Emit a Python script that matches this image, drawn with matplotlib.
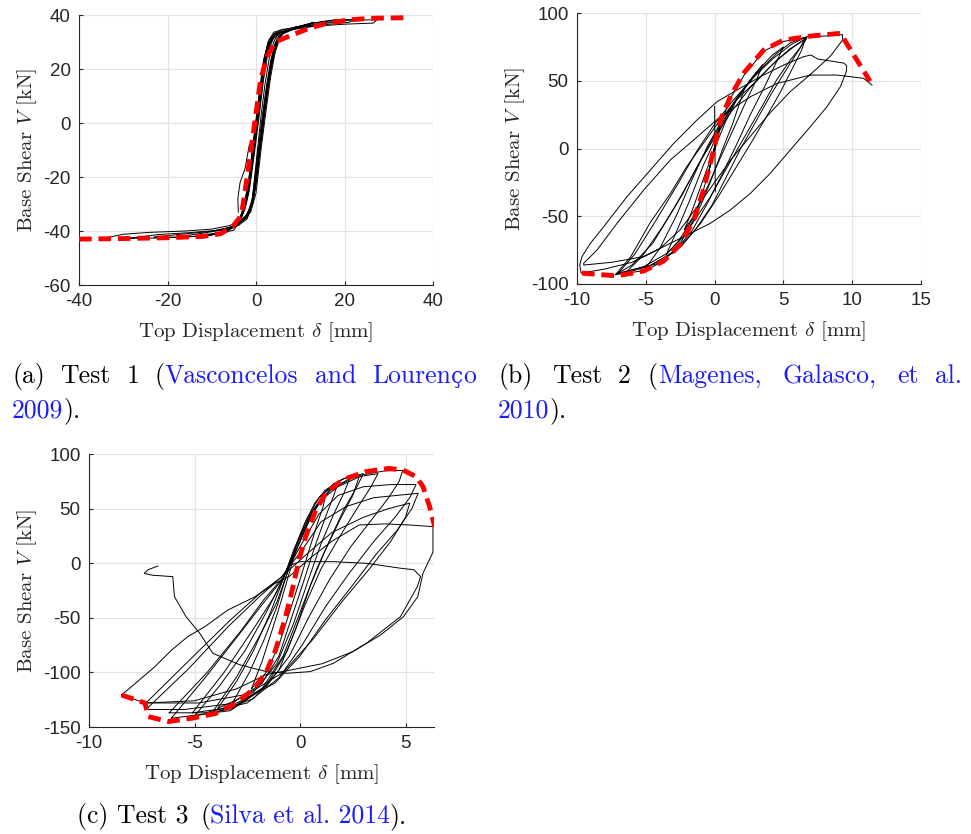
import matplotlib
matplotlib.use("Agg")
import matplotlib.pyplot as plt

plt.rcParams['font.family'] = ['Liberation Sans', 'DejaVu Sans']
plt.rcParams['mathtext.fontset'] = 'cm'
plt.rcParams['axes.unicode_minus'] = False

SERIF = ['cmr10', 'DejaVu Serif']
BLUE = '#1a1aff'

# ---- Test 1 (Vasconcelos and Lourenco 2009): displacement [mm], shear [kN]
env1 = [(-40, -43), (-30, -42.8), (-20, -42.5), (-12, -42), (-8, -41), (-5.3, -38.4),
        (-3.8, -35.3), (-3.1, -32), (-2, -20), (-0.8, -6), (0.2, 6), (1.05, 16),
        (2.5, 24.6), (4.4, 30.1), (8.2, 32.6), (12, 35.1), (15.7, 36.8), (21, 38.2),
        (26.3, 38.8), (34, 39)]
loops1 = [
    [(-3.5, -36), (-2, -34), (-0.8, -28), (0.2, -12), (1.1, 2), (2, 14), (3, 24), (4, 30),
     (5, 33), (4, 32.5), (3, 30), (2, 24), (1, 12), (0, -3), (-1, -17), (-2, -28),
     (-3, -34), (-3.5, -36)],
    [(-5, -38), (-2.5, -35.5), (-1, -30), (0.2, -14), (1.3, 1), (2.3, 13), (3.3, 23),
     (4.3, 29.5), (5.2, 32.5), (6.5, 34), (4.5, 33.5), (3, 31), (1.8, 24), (0.7, 10),
     (-0.4, -5), (-1.4, -19), (-2.4, -29), (-3.4, -35), (-5, -38)],
    [(-8, -40), (-4, -37.5), (-1.8, -34.5), (-0.4, -25), (0.8, -8), (1.9, 5), (2.9, 16),
     (3.9, 25), (4.8, 31), (6, 33.5), (9, 35), (6, 34.7), (4, 33.6), (2.7, 30), (1.6, 22),
     (0.5, 8), (-0.6, -7), (-1.6, -21), (-2.6, -30), (-3.6, -35.5), (-5, -38.2), (-8, -40)],
    [(-11, -41.5), (-7, -40.2), (-4, -38), (-2, -35.5), (-0.5, -27), (0.6, -11), (1.6, 3),
     (2.6, 15), (3.6, 24.5), (4.6, 30.5), (6, 33), (9, 35.5), (13, 37.3), (12, 36.5),
     (9, 35.6), (6, 34.5), (4, 33), (2.5, 28), (1.4, 18), (0.3, 4), (-0.8, -10),
     (-1.8, -23), (-2.8, -31), (-3.8, -35.8), (-6, -39.5), (-8, -41), (-11, -41.5)],
    [(-17, -42), (-12, -40.8), (-7, -39.5), (-4, -37.5), (-2, -35), (-0.6, -29),
     (0.5, -15), (1.5, 0), (2.5, 13), (3.5, 23), (4.5, 29.5), (5.5, 32.5), (8, 34.6),
     (12, 36.6), (15, 37.6), (18, 38.2), (17, 37.2), (13, 36.3), (9, 35.2), (6, 34),
     (4.2, 32.5), (3, 29), (1.9, 21), (0.8, 7), (-0.3, -8), (-1.3, -21), (-2.3, -30),
     (-3.3, -35), (-5, -39.7), (-10, -41.5), (-14, -42), (-17, -42)],
    [(-23, -42.3), (-17, -41.2), (-11, -40.3), (-6, -38.8), (-3.5, -36.5), (-1.5, -33.5),
     (-0.2, -25), (0.9, -9), (2, 5), (3, 17), (4, 26), (5, 31), (6.2, 33.2), (9, 35),
     (13, 37), (18, 38.2), (22.5, 38.4), (21, 37.3), (16, 36.5), (10, 35.3), (6.5, 34),
     (4.5, 33), (3.3, 30.5), (2.2, 24), (1.1, 11), (0, -3), (-1, -16), (-2, -27),
     (-3, -33.5), (-4.5, -37.5), (-7, -40.3), (-11, -41.8), (-17, -42.3), (-23, -42.3)],
    [(-28.7, -42.7), (-22, -41.3), (-15, -40.6), (-9, -39.8), (-5, -38.2), (-2.7, -35.5),
     (-1, -30.5), (0.3, -17), (1.4, -2), (2.4, 11), (3.4, 21), (4.4, 28), (5.3, 32),
     (6.6, 33.8), (10, 35.6), (16, 37.3), (22, 38.2), (27.3, 38.2), (26.5, 37), (20, 36.6),
     (13, 35.8), (8, 34.5), (5.5, 33.4), (4, 31.5), (2.8, 27), (1.7, 16), (0.6, 1),
     (-0.5, -13), (-1.5, -25), (-2.5, -32), (-3.7, -36), (-7, -40.3), (-14, -42),
     (-22, -42.6), (-28.7, -42.7)],
    [(-34.3, -42.7), (-30, -41.2), (-24, -40.5), (-16, -40), (-10, -39.3), (-6, -38),
     (-3.3, -36), (-1.4, -33), (0, -23), (1.1, -8), (2.2, 6), (3.2, 18), (4.2, 26.5),
     (5.2, 31.5)],
    [(5, 32.5), (3.6, 31), (2.4, 25), (1.3, 13), (0.2, -2), (-0.9, -16), (-1.9, -27),
     (-2.9, -33.3), (-3.6, -35.6)],
    [(-3, -36), (-1.2, -33), (0, -26), (1.2, -9), (2.3, 5), (3.3, 17), (4.3, 26),
     (5.4, 31.5), (6, 33)],
    [(-4, -33), (-4.1, -28), (-3.6, -22), (-2.5, -17), (-1.5, -8)],
]

# ---- Test 2 (Magenes, Galasco, et al. 2010)
env2 = [(-9.64, -92), (-7.1, -94), (-5.15, -90.4), (-3.7, -83), (-2.5, -70.8),
        (-1.5, -52.4), (-0.8, -30.3), (-0.07, -1.2), (0.42, 21), (1.14, 38), (2.1, 55.5),
        (3.57, 72.7), (5.0, 80), (7.0, 83), (9.14, 85), (11.3, 49.6)]
loops2 = [
    [(0, 31), (0.05, -32)],
    [(-0.5, -20), (0.5, 22), (0.2, 10), (-0.5, -20)],
    [(-2.2, -60), (-1.6, -45), (-0.8, -22), (0, 0), (0.8, 20), (1.6, 36), (2.2, 45),
     (1.9, 36), (1.3, 18), (0.6, 0), (-0.2, -22), (-1, -42), (-2.2, -60)],
    [(-3.5, -78), (-2.8, -62), (-1.8, -38), (-0.8, -12), (0.2, 10), (1.2, 30), (2.4, 48),
     (3.5, 62), (3.1, 52), (2.3, 35), (1.4, 15), (0.5, -5), (-0.5, -28), (-1.6, -52),
     (-2.6, -68), (-3.5, -78)],
    [(-5, -88), (-4, -74), (-2.8, -50), (-1.6, -22), (-0.5, 2), (0.6, 22), (1.8, 40),
     (3, 56), (4.2, 69), (5, 75), (4.5, 64), (3.6, 45), (2.6, 25), (1.6, 3), (0.6, -18),
     (-0.5, -40), (-1.6, -60), (-3, -77), (-5, -88)],
    [(-7.2, -93), (-6.1, -80), (-4.7, -55), (-3.2, -33), (-2, -13), (-0.8, 4), (0.4, 21),
     (1.6, 36), (3.1, 50.5), (4.5, 65), (5.75, 75), (6.7, 81.5), (6.47, 77.6),
     (5.5, 65.3), (4.5, 50.5), (3.57, 33.3), (2.6, 16.1), (1.63, -1.1), (0.66, -18.3),
     (-0.31, -35.6), (-1.28, -50.3), (-2.25, -65), (-3.46, -77.4), (-5.15, -87.2),
     (-7.2, -93)],
    [(-7, -92), (-5.8, -78), (-4.2, -52), (-2.6, -25), (-1.3, -2), (0, 18), (1.3, 35),
     (2.8, 52), (4.2, 66), (5.6, 77), (6.6, 82), (6.2, 74), (5.2, 58), (4.1, 40), (3, 20),
     (1.9, 0), (0.9, -20), (-0.2, -42), (-1.4, -60), (-2.8, -75), (-4.6, -86), (-7, -92)],
    [(-6.5, -92), (-5.3, -80), (-3.8, -58), (-2.4, -35), (-1.2, -12), (0, 8), (1.2, 27),
     (2.6, 45), (4, 60), (5.4, 73), (6.6, 81), (6.3, 72), (5.6, 58), (4.8, 42), (3.8, 24),
     (2.7, 5), (1.5, -15), (0.3, -35), (-1, -55), (-2.4, -72), (-4.2, -85), (-6.5, -92)],
    [(-7.2, -93), (-5, -90), (-3.7, -83), (-2.5, -70), (-1.5, -52), (-0.8, -30), (0, -2),
     (0.5, 20), (1.2, 38), (2.2, 55), (3.6, 72), (5, 79), (6.7, 82)],
    [(-7.2, -93), (-6, -86), (-4.5, -70), (-3, -45), (-1.5, -18), (0, 10), (1.5, 35),
     (3, 55), (4.5, 70), (5.5, 78), (6.7, 82.5), (8, 83), (9.3, 84), (9.3, 80), (8.4, 68),
     (7, 55), (5.5, 42), (4, 26), (2.6, 9), (1.2, -8), (0, -25), (-1.2, -42), (-2.5, -60),
     (-4, -74), (-6, -84), (-8, -89), (-9.7, -92), (-9.8, -86), (-9.64, -79.8),
     (-9.03, -70), (-8.06, -57.7), (-6.37, -35.6), (-4.67, -15.9), (-2.97, 3.8),
     (-1.28, 21), (0.17, 34.5), (1.63, 43.2), (3.32, 53), (5.02, 61.6), (6.47, 67.8),
     (7, 69), (7.5, 66), (8.5, 64.5), (9.4, 63), (9.6, 61), (9.57, 56.7), (9.14, 45.6),
     (8.17, 30.9), (6.96, 16.1), (5.5, -1.1), (4.05, -18.3), (2.6, -33.1), (1.14, -45.4),
     (-0.31, -55.2), (-1.76, -62.6), (-2.73, -67.5), (-5.15, -79.8), (-7.5, -84),
     (-9.5, -86), (-9.52, -84.8), (-8.55, -75), (-7.09, -55.2), (-5.15, -30.6),
     (-3.22, -8.5), (-1.52, 6.3), (0.42, 23.5), (2.6, 38.2), (4.53, 48), (6.96, 54.2),
     (8.9, 54.2), (10.83, 51.8), (11.44, 46.8)],
]

# ---- Test 3 (Silva et al. 2014)
env3 = [(-8.46, -120.7), (-7.35, -128), (-7.19, -140.5), (-6.24, -145), (-5.13, -142),
        (-4.02, -137.7), (-3.06, -128.5), (-2.27, -116.3), (-1.63, -101), (-1.16, -79.6),
        (-0.68, -49), (-0.37, -24.6), (-0.05, 3), (0.27, 24.4), (0.75, 48.8),
        (1.22, 64), (2.0, 76.2), (3.1, 83.8), (4.2, 86.8), (4.87, 85.4), (5.5, 79.3),
        (5.83, 70.1), (6.14, 51.8), (6.38, 33.5)]
loops3 = [
    [(-2.3, -115), (-1.8, -90), (-1.3, -60), (-0.9, -35), (-0.6, -15), (-0.3, 5),
     (0.1, 25), (0.5, 42), (0.9, 55), (1.2, 62), (1.1, 52), (0.8, 35), (0.4, 10),
     (0, -15), (-0.5, -45), (-1, -75), (-1.6, -100), (-2.3, -115)],
    [(-3.2, -128), (-2.4, -100), (-1.7, -70), (-1.1, -40), (-0.7, -15), (-0.3, 10),
     (0.2, 35), (0.7, 55), (1.2, 67), (1.8, 74), (1.6, 62), (1.2, 42), (0.7, 15),
     (0.2, -15), (-0.4, -50), (-1, -85), (-1.8, -110), (-3.2, -128)],
    [(-3.9, -133), (-3, -108), (-2.2, -80), (-1.4, -45), (-0.8, -15), (-0.3, 12),
     (0.3, 40), (0.9, 60), (1.6, 73), (2.4, 80), (2.1, 65), (1.6, 45), (1, 18),
     (0.4, -15), (-0.3, -55), (-1.1, -92), (-2.2, -118), (-3.9, -133)],
    [(-5, -140), (-3.8, -112), (-2.6, -80), (-1.6, -45), (-0.8, -14), (-0.2, 15),
     (0.5, 45), (1.2, 65), (2, 77), (3, 82), (2.7, 70), (2.1, 50), (1.5, 25), (0.8, -5),
     (0, -45), (-0.8, -85), (-1.8, -115), (-3.2, -133), (-5, -140)],
    [(-5.1, -137), (-3.6, -100), (-2.2, -60), (-1.2, -30), (-0.8, -14), (-0.1, 20),
     (0.6, 48), (1.4, 67), (2.4, 78), (3.7, 82), (3.3, 68), (2.7, 50), (1.9, 25),
     (1, -5), (0.2, -40), (-0.6, -80), (-1.6, -112), (-3.2, -132), (-5.1, -137)],
    [(-6.1, -142), (-4.5, -105), (-3, -68), (-1.8, -38), (-0.8, -14), (0, 20), (0.7, 50),
     (1.5, 68), (2.7, 80), (4, 84.5), (4.87, 85), (4.7, 75), (4.2, 60), (3.4, 40),
     (2.4, 15), (1.4, -15), (0.4, -50), (-0.5, -85), (-1.6, -113), (-3.3, -135),
     (-6.1, -142)],
    [(-6.2, -137), (-4.4, -100), (-2.8, -62), (-1.7, -33), (-0.8, -13), (0, 15),
     (0.9, 45), (1.8, 62), (3, 70), (4.3, 72), (5.5, 72), (5.2, 60), (4.5, 42),
     (3.5, 20), (2.3, -10), (1.2, -40), (0.1, -75), (-1, -105), (-2.5, -128),
     (-4.5, -137), (-6.2, -137)],
    [(-7.3, -134), (-5.3, -97), (-3.4, -58), (-2, -32), (-0.9, -13), (0.1, 12),
     (1, 38), (2.2, 52), (3.5, 60), (5.6, 64), (5.3, 50), (4.6, 30), (3.6, 8),
     (2.5, -20), (1.2, -52), (0, -85), (-1.2, -110), (-3, -128), (-5.5, -134),
     (-7.3, -134)],
    [(-7.3, -128), (-5.2, -88), (-3.3, -52), (-1.8, -26), (-0.9, -13), (0.3, 8),
     (1.5, 28), (3, 42), (4.2, 50), (5.2, 55), (5, 42), (4.3, 20), (3.3, -5), (2, -35),
     (0.6, -70), (-0.8, -100), (-2.5, -120), (-4.8, -128), (-7.3, -128)],
    [(-4.2, -138), (-3, -104), (-1.9, -66), (-1.1, -36), (-0.7, -14), (-0.2, 12),
     (0.4, 38), (1, 58), (1.8, 70), (2.8, 79), (2.5, 62), (1.9, 40), (1.2, 12),
     (0.5, -20), (-0.2, -60), (-1, -98), (-2.2, -124), (-4.2, -138)],
    [(-8.46, -120.7), (-7.98, -113), (-6.87, -94.6), (-6.08, -79.4), (-5.3, -67),
     (-4.5, -58), (-3.43, -43), (-2.16, -31), (-1.2, -18.7), (-0.5, -12), (0.5, 5),
     (1.5, 20), (2.8, 35), (4, 36), (5.2, 35), (6.3, 33.5), (6.3, 10), (5.83, -9),
     (5.58, -30.7), (4.9, -49), (3.8, -66), (2.5, -81), (1.06, -92), (-0.5, -98),
     (-1.6, -102), (-3, -115), (-5, -126), (-7.35, -128), (-8.46, -120.7)],
    [(-6.74, -2.6), (-7.2, -6), (-7.38, -9.3), (-7.0, -11), (-6.03, -12.3),
     (-5.95, -30.7), (-5.4, -49), (-4.76, -64), (-4.13, -82.5), (-2.86, -93),
     (-1.59, -99.3), (-0.63, -100.8), (0.48, -99.3), (1.59, -91.6), (3.17, -73),
     (4.76, -49), (5.56, -21.5), (5.71, -12.3), (5.4, -6), (4.76, -4.6), (3.17, -0.1),
     (1.59, 1.4), (0, 1.4), (-0.5, -2)],
]

W, H = 971, 834
fig = plt.figure(figsize=(W / 100, H / 100), dpi=100)


def px_axes(left, top, right, bottom):
    return fig.add_axes([left / W, 1 - bottom / H, (right - left) / W, (bottom - top) / H])


def draw(ax, loops, env, xlim, ylim, xticks, yticks):
    for lp in loops:
        x, y = zip(*lp)
        ax.plot(x, y, color='k', lw=0.7)
    ex, ey = zip(*env)
    ax.plot(ex, ey, color='r', lw=3.5, dashes=(2.6, 1.4), zorder=5)
    ax.set_xlim(xlim)
    ax.set_ylim(ylim)
    ax.set_xticks(xticks)
    ax.set_yticks(yticks)
    ax.grid(True, color='#e3e3e3', lw=0.9)
    ax.set_axisbelow(True)
    for s in ['top', 'right']:
        ax.spines[s].set_visible(False)
    for s in ['left', 'bottom']:
        ax.spines[s].set_color('#262626')
        ax.spines[s].set_linewidth(0.8)
    ax.tick_params(direction='in', length=3, width=0.8, colors='#262626',
                   labelsize=13.5, pad=6)
    ax.set_xlabel(r'Top Displacement $\delta$ [mm]', family=SERIF, fontsize=15,
                  color='#262626', labelpad=7)
    ax.set_ylabel(r'Base Shear $V$ [kN]', family=SERIF, fontsize=15,
                  color='#262626', labelpad=3)


ax1 = px_axes(79, 15, 433, 285)
draw(ax1, loops1, env1, (-40, 40), (-60, 40), range(-40, 41, 20), range(-60, 41, 20))
ax2 = px_axes(577, 13, 921, 284)
draw(ax2, loops2, env2, (-10, 15), (-100, 100), range(-10, 16, 5), range(-100, 101, 50))
ax3 = px_axes(89, 454, 434, 727)
draw(ax3, loops3, env3, (-10, 6.35), (-150, 100), range(-10, 6, 5), range(-150, 101, 50))

renderer = fig.canvas.get_renderer()
CAP = 18.5


def cap(x, y, *pieces):
    # pieces: (text, colour[, family, size]) drawn one after the other from x
    for p in pieces:
        s, color = p[0], p[1]
        fam = p[2] if len(p) > 2 else SERIF
        size = p[3] if len(p) > 3 else CAP
        t = fig.text(x / W, 1 - y / H, s, family=fam, fontsize=size, color=color,
                     ha='left', va='baseline')
        x = t.get_window_extent(renderer).x1
    return x


# captions, word by word to mimic the justified LaTeX lines
cap(12, 383, ('(a)', 'k'))
cap(60, 383, ('Test', 'k'))
cap(127, 383, ('1', 'k'))
cap(154, 383, ('(', 'k'), ('Vasconcelos', BLUE))
cap(315, 383, ('and', BLUE))
cap(372, 383, ('Louren', BLUE), ('ç', BLUE, 'DejaVu Serif', 15.5), ('o', BLUE))
cap(12, 417, ('2009', BLUE), (').', 'k'))

cap(498, 383, ('(b)', 'k'))
cap(552, 383, ('Test', 'k'))
cap(618, 383, ('2', 'k'))
cap(648, 383, ('(', 'k'), ('Magenes,', BLUE))
cap(783, 383, ('Galasco,', BLUE))
cap(897, 383, ('et', BLUE))
cap(935, 383, ('al.', BLUE))
cap(498, 417, ('2010', BLUE), (').', 'k'))

cap(77, 823, ('(c) Test 3', 'k'))
cap(200, 823, ('(', 'k'), ('Silva et al. 2014', BLUE), (').', 'k'))

fig.savefig('out.png', dpi=100)
